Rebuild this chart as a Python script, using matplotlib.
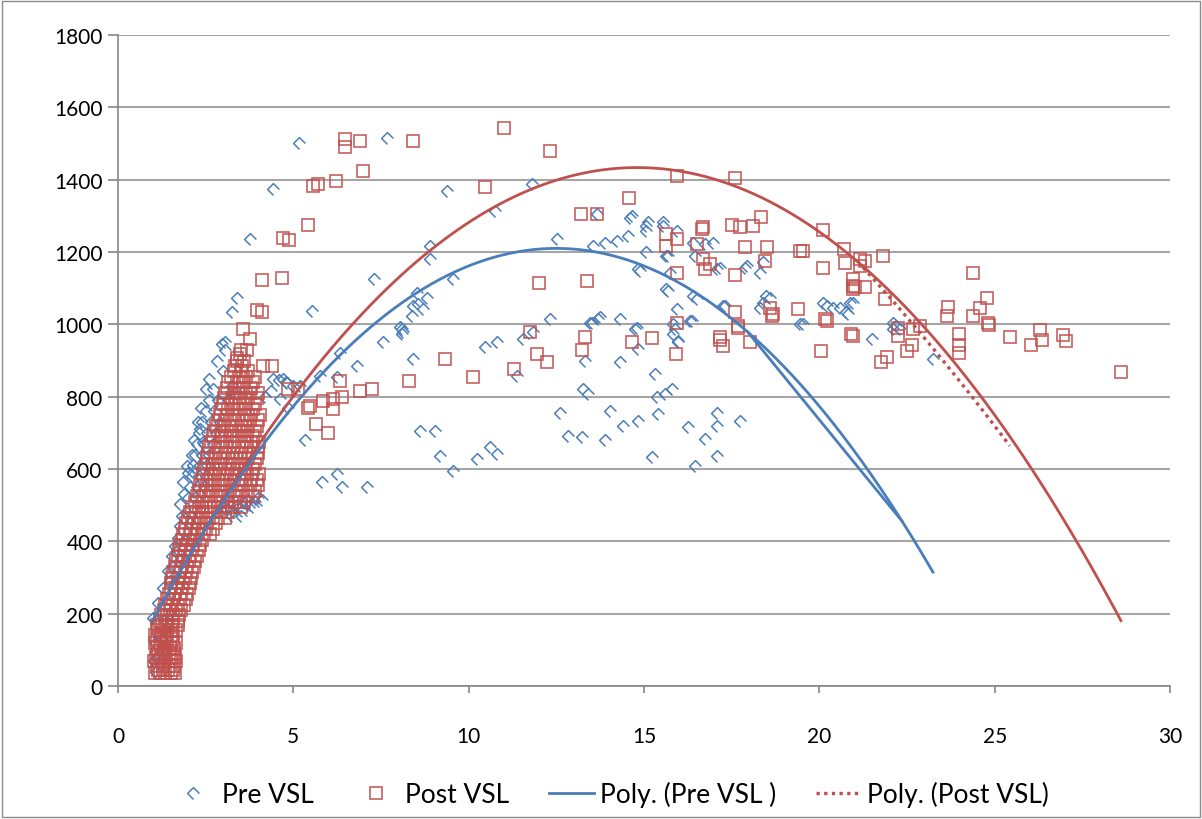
import numpy as np
import matplotlib
matplotlib.use("Agg")
import matplotlib.pyplot as plt
from matplotlib.path import Path
from matplotlib.patches import Rectangle

plt.rcParams["font.family"] = ["Lato", "DejaVu Sans"]

# ---------------------------------------------------------------- data
# Pre VSL observations (x, y)
pre_x = [
    # dense low-speed band
    1.00, 1.05, 1.02, 1.10, 1.15, 1.20, 1.29, 1.35, 1.43, 1.50, 1.53, 1.63, 1.70, 1.77, 1.77,
    1.80, 1.86, 1.90, 1.95, 1.96, 2.00, 2.05, 2.05, 2.10, 2.15, 2.15, 2.20, 2.20, 2.25, 2.25,
    2.30, 2.30, 2.34, 2.35, 2.40, 2.40, 2.43, 2.45, 2.45, 2.50, 2.50, 2.55, 2.55, 2.60, 2.60,
    2.65, 2.70, 2.72, 2.75, 2.80, 2.85, 2.90, 2.96, 3.00, 3.05, 3.10, 3.20, 3.25, 3.30, 3.45,
    3.50, 3.60, 3.75, 3.90, 4.00, 3.15, 3.35, 4.43, 4.60, 4.80, 5.00, 4.20, 4.35,
    1.08, 1.12, 1.25, 1.32, 1.40, 1.48, 1.58, 1.66, 1.72, 1.82, 1.88, 2.00, 2.10, 2.18,
    2.28, 2.38, 2.50, 2.60, 2.82, 3.25, 3.40, 3.55, 3.70, 3.85, 4.10, 3.00,
    # scattered observations
    5.16, 7.68, 9.37, 11.80, 10.75, 8.90, 8.90, 7.31, 5.52, 9.56,
    8.52, 8.80, 8.42, 8.71, 8.37, 8.56,
    12.51, 14.65, 15.07, 15.07, 15.55, 15.93,
    13.55, 13.89, 14.22, 14.55, 15.07, 15.69, 14.88, 15.69, 16.50,
    16.40, 16.74, 16.97, 17.07, 17.88, 18.31, 18.59, 17.31, 15.93,
    12.32, 13.51, 13.74, 14.31, 14.79, 15.83, 16.36, 8.04,
    20.11, 20.21, 20.40, 20.77, 20.87, 18.49, 18.40, 18.31, 19.45,
    17.93, 18.40, 17.17, 16.40, 17.26, 15.64, 15.74, 14.84, 15.64, 16.45,
    15.55, 15.12, 14.60, 13.65, 13.70, 14.74, 15.88, 16.31,
    8.14, 8.09, 7.56, 8.42, 10.46, 10.80, 11.56, 11.84, 11.37, 13.32,
    13.46, 14.84, 14.31, 13.27, 13.41, 15.31, 15.36, 15.60, 15.79,
    15.83, 15.98, 12.60, 14.03, 12.84, 13.22, 13.89, 14.41, 14.84, 15.41, 15.22,
    16.26, 16.45, 8.61, 9.04, 9.18, 9.56, 10.23, 10.61, 10.80,
    17.07, 17.07, 16.74, 17.74, 17.07, 19.54, 21.49, 22.20, 22.30, 23.25,
    15.98, 20.97, 20.83, 20.59, 22.11, 22.11,
    4.43, 3.76, 3.38, 3.24, 3.05, 6.33,
    8.09, 6.81, 6.24, 5.76, 4.71, 4.81, 4.62, 4.86, 5.33, 6.24, 5.81, 6.38, 7.09, 5.19,
]
pre_y = [
    189, 120, 70, 150, 230, 60, 272, 100, 319, 200, 360, 388, 300, 443, 503,
    350, 563, 400, 480, 609, 520, 450, 550, 580, 591, 610, 520, 640, 550, 670,
    580, 700, 710, 610, 640, 730, 674, 550, 670, 580, 760, 610, 700, 640, 790,
    730, 670, 821, 760, 700, 790, 730, 946, 870, 930, 490, 510, 830, 480, 495,
    470, 505, 500, 510, 520, 790, 810, 850, 845, 840, 830, 800, 815,
    40, 80, 130, 180, 240, 290, 330, 370, 410, 470, 530, 590, 640, 680,
    730, 770, 820, 850, 900, 470, 500, 485, 515, 495, 515, 480,
    1501, 1514, 1369, 1388, 1314, 1217, 1180, 1125, 1038, 1125,
    1088, 1074, 1051, 1042, 1024, 1056,
    1236, 1300, 1273, 1259, 1273, 1259,
    1217, 1226, 1231, 1245, 1199, 1190, 1148, 1093, 1070,
    1226, 1222, 1226, 1153, 1157, 1143, 1074, 1051, 1042,
    1014, 1005, 1019, 1014, 991, 1001, 1010, 992,
    1060, 1051, 1046, 1033, 1060, 1079, 1060, 1046, 1001,
    1162, 1171, 1157, 1079, 1051, 1098, 1143, 1153, 1190, 1190,
    1282, 1282, 1295, 1305, 1014, 987, 987, 1010,
    978, 987, 950, 904, 936, 950, 959, 978, 857, 899,
    1005, 932, 895, 821, 807, 863, 798, 807, 821,
    973, 950, 756, 761, 692, 688, 679, 720, 734, 752, 632,
    715, 609, 706, 706, 636, 595, 628, 660, 641,
    756, 720, 683, 734, 636, 1001, 959, 996, 987, 904,
    955, 1060, 1028, 1046, 1005, 987,
    1374, 1236, 1074, 1033, 950, 922,
    973, 886, 853, 857, 849, 839, 793, 770, 679, 586, 563, 549, 549, 830,
]

# Post VSL observations (x, y)
post_x = [
    # dense low-speed band
    1.06, 1.20, 1.35, 1.50, 1.62,
    1.13, 1.28, 1.43, 1.57,
    1.10, 1.28, 1.45, 1.60,
    1.04, 1.18, 1.33, 1.50, 1.64,
    1.08, 1.22, 1.38, 1.55, 1.63,
    1.15, 1.30, 1.46, 1.60,
    1.12, 1.30, 1.47, 1.60,
    1.05, 1.20, 1.35, 1.52, 1.66,
    1.10, 1.25, 1.40, 1.58,
    1.06, 1.22, 1.38, 1.55,
    1.15, 1.32, 1.50, 1.66,
    1.10, 1.25, 1.42, 1.58, 1.72,
    1.20, 1.38, 1.55, 1.70,
    1.22, 1.40, 1.58, 1.75,
    1.30, 1.48, 1.65, 1.80,
    1.35, 1.52, 1.70, 1.88,
    1.40, 1.58, 1.76, 1.95,
    1.45, 1.62, 1.80, 1.98,
    1.50, 1.66, 1.82, 2.02,
    1.52, 1.70, 1.86, 2.05,
    1.55, 1.72, 1.90, 2.08,
    1.58, 1.76, 1.95, 2.12,
    1.62, 1.80, 1.98, 2.18,
    1.66, 1.84, 2.02, 2.20,
    1.70, 1.88, 2.06, 2.25,
    1.74, 1.92, 2.10, 2.30,
    1.78, 1.95, 2.14, 2.35,
    1.82, 2.00, 2.20, 2.40,
    1.85, 2.05, 2.25, 2.45, 2.62,
    1.90, 2.08, 2.28, 2.50, 2.70,
    1.95, 2.12, 2.32, 2.55, 2.80,
    2.00, 2.18, 2.38, 2.60, 2.85, 3.05,
    2.05, 2.22, 2.42, 2.65, 2.90, 3.15,
    2.12, 2.30, 2.50, 2.75, 3.00, 3.25, 3.50,
    2.20, 2.40, 2.60, 2.85, 3.10, 3.35, 3.60,
    2.25, 2.45, 2.65, 2.90, 3.15, 3.40, 3.65, 3.85,
    2.30, 2.50, 2.72, 2.95, 3.20, 3.45, 3.70, 3.90,
    2.35, 2.55, 2.78, 3.00, 3.25, 3.50, 3.75, 3.98,
    2.40, 2.60, 2.85, 3.05, 3.30, 3.55, 3.80, 3.95,
    2.42, 2.65, 2.88, 3.10, 3.35, 3.58, 3.82, 4.02,
    2.45, 2.70, 2.90, 3.15, 3.40, 3.62, 3.85,
    2.50, 2.72, 2.95, 3.20, 3.42, 3.66, 3.90,
    2.55, 2.78, 3.00, 3.25, 3.48, 3.70, 3.95,
    2.58, 2.80, 3.04, 3.28, 3.50, 3.74, 3.98,
    2.60, 2.85, 3.08, 3.30, 3.55, 3.78, 4.00,
    2.65, 2.90, 3.12, 3.35, 3.58, 3.80, 4.02,
    2.70, 2.95, 3.18, 3.40, 3.62, 3.85,
    2.75, 2.98, 3.22, 3.45, 3.68, 3.90,
    2.80, 3.02, 3.25, 3.50, 3.72, 3.95,
    2.85, 3.06, 3.30, 3.54, 3.76, 4.00,
    2.90, 3.10, 3.35, 3.58, 3.80, 4.05,
    2.95, 3.15, 3.40, 3.62, 3.85,
    3.00, 3.22, 3.45, 3.65, 3.90,
    3.02, 3.26, 3.48, 3.70, 3.95,
    3.05, 3.30, 3.52, 3.75, 4.00,
    3.10, 3.35, 3.56, 3.80,
    3.15, 3.40, 3.60, 3.85,
    3.22, 3.45, 3.65, 3.90,
    3.30, 3.50, 3.70,
    3.35, 3.55,
    3.40, 3.60,
    3.50, 3.68,
    # scattered observations
    6.47, 6.47, 6.90, 8.42, 11.01, 12.32, 6.99, 5.57, 5.71, 6.21, 5.41, 4.71, 4.88, 4.67,
    10.46, 14.58, 13.20, 13.67, 15.93, 17.59,
    15.64, 15.93, 15.64, 16.64, 16.69, 16.50,
    17.50, 17.73, 18.12, 18.35, 17.88, 18.50,
    16.69, 16.88, 16.74, 17.59, 18.45, 18.59, 18.64, 17.59,
    12.01, 13.38,
    20.11, 20.70, 20.73, 20.11, 20.97, 20.97, 20.97, 20.97, 20.16, 19.40,
    19.45, 19.54, 17.69, 18.69, 15.93, 15.93, 17.17,
    8.31, 9.32, 10.13, 11.30, 11.75, 11.96, 12.22, 13.22, 13.32, 14.67, 15.22, 15.91,
    17.17, 17.24, 17.67, 18.02, 20.06, 20.89, 21.77, 21.92, 22.25, 22.49, 22.63, 22.68,
    22.87, 20.21,
    21.16, 21.30, 21.82, 21.16, 21.02, 21.30, 21.87,
    24.37, 23.68, 23.63, 24.58, 24.79, 24.37, 24.82, 24.84,
    22.25, 23.99, 23.99, 23.99, 25.45, 26.29, 26.34, 26.03, 26.96, 27.03, 28.60,
    4.12, 3.95, 4.10, 3.57, 3.76, 3.48, 3.38,
    7.23, 6.90, 6.33, 6.38, 6.14, 5.85, 6.12, 5.43, 5.47, 5.66, 6.00, 5.14, 4.86, 4.14, 4.38,
]
post_y = [
    35, 35, 35, 35, 35,
    45, 45, 45, 45,
    55, 55, 55, 55,
    68, 68, 68, 68, 68,
    80, 80, 80, 80, 80,
    92, 92, 92, 92,
    105, 105, 105, 105,
    118, 118, 118, 118, 118,
    130, 130, 130, 130,
    142, 142, 142, 142,
    155, 155, 155, 155,
    168, 168, 168, 168, 168,
    180, 180, 180, 180,
    195, 195, 195, 195,
    210, 210, 210, 210,
    225, 225, 225, 225,
    240, 240, 240, 240,
    255, 255, 255, 255,
    270, 270, 270, 270,
    285, 285, 285, 285,
    300, 300, 300, 300,
    315, 315, 315, 315,
    330, 330, 330, 330,
    345, 345, 345, 345,
    360, 360, 360, 360,
    375, 375, 375, 375,
    390, 390, 390, 390,
    405, 405, 405, 405,
    420, 420, 420, 420, 420,
    435, 435, 435, 435, 435,
    450, 450, 450, 450, 450,
    465, 465, 465, 465, 465, 465,
    480, 480, 480, 480, 480, 480,
    495, 495, 495, 495, 495, 495, 495,
    510, 510, 510, 510, 510, 510, 510,
    525, 525, 525, 525, 525, 525, 525, 525,
    540, 540, 540, 540, 540, 540, 540, 540,
    555, 555, 555, 555, 555, 555, 555, 555,
    570, 570, 570, 570, 570, 570, 570, 570,
    585, 585, 585, 585, 585, 585, 585, 585,
    600, 600, 600, 600, 600, 600, 600,
    615, 615, 615, 615, 615, 615, 615,
    630, 630, 630, 630, 630, 630, 630,
    645, 645, 645, 645, 645, 645, 645,
    660, 660, 660, 660, 660, 660, 660,
    675, 675, 675, 675, 675, 675, 675,
    690, 690, 690, 690, 690, 690,
    705, 705, 705, 705, 705, 705,
    720, 720, 720, 720, 720, 720,
    735, 735, 735, 735, 735, 735,
    750, 750, 750, 750, 750, 750,
    765, 765, 765, 765, 765,
    780, 780, 780, 780, 780,
    795, 795, 795, 795, 795,
    810, 810, 810, 810, 810,
    825, 825, 825, 825,
    840, 840, 840, 840,
    855, 855, 855, 855,
    870, 870, 870,
    885, 885,
    900, 900,
    930, 930,
    1512, 1489, 1508, 1508, 1542, 1480, 1423, 1383, 1389, 1397, 1276, 1240, 1234, 1127,
    1380, 1348, 1304, 1304, 1410, 1404,
    1251, 1237, 1217, 1263, 1268, 1222,
    1274, 1268, 1273, 1296, 1213, 1213,
    1181, 1167, 1153, 1137, 1176, 1046, 1024, 1035,
    1114, 1120,
    1262, 1208, 1169, 1157, 1125, 1107, 1098, 968, 1015, 1042,
    1204, 1204, 995, 1028, 1005, 1143, 965,
    844, 904, 853, 876, 978, 917, 897, 930, 964, 952, 962, 919,
    958, 941, 991, 952, 927, 973, 895, 910, 968, 927, 942, 987,
    996, 1010,
    1181, 1176, 1190, 1162, 1102, 1102, 1070,
    1141, 1049, 1022, 1044, 1072, 1024, 1004, 998,
    991, 973, 943, 922, 965, 984, 957, 943, 970, 955, 867,
    1123, 1040, 1033, 988, 959, 918, 908,
    821, 816, 844, 798, 793, 789, 766, 770, 775, 724, 700, 821, 821, 886, 886,
]

# polynomial trend coefficients (highest power first) and their x spans
pre_trend = [-7.76, 194.0, -2.5]
pre_span = [0.98, 23.24]
pre_chord = [17.96, 22.36]
post_trend = [-6.58, 194.8, -8.3]
post_span = [0.96, 28.6]
post_tail_trend = [-2.633, 5.01, 2239.4]
post_tail_span = [21.25, 25.43]

x_ticks = [0, 5, 10, 15, 20, 25, 30]
y_ticks = [0, 200, 400, 600, 800, 1000, 1200, 1400, 1600, 1800]

# ---------------------------------------------------------------- style
BLUE = "#4A7EBB"
RED = "#C0504D"
GRID = "#A6A6A6"
AXIS = "#868686"

# open diamond (lower-right edge left out)
pre_marker = Path([(0, -1), (-1, 0), (0, 1), (1, 0)],
                  [Path.MOVETO, Path.LINETO, Path.LINETO, Path.LINETO])

fig = plt.figure(figsize=(12.02, 8.20), dpi=100)
ax = fig.add_axes([118 / 1202, 1 - 687 / 820, (1170 - 118) / 1202, (687 - 36) / 820])

ax.plot(pre_x, pre_y, linestyle="none", marker=pre_marker, markersize=8.5,
        markerfacecolor="none", markeredgecolor=BLUE, markeredgewidth=1.1,
        label="Pre VSL", zorder=3)
ax.plot(post_x, post_y, linestyle="none", marker="s", markersize=9,
        markerfacecolor="none", markeredgecolor=RED, markeredgewidth=1.2,
        alpha=0.9, label="Post VSL", zorder=4)

xs = np.linspace(pre_span[0], pre_span[1], 400)
ax.plot(xs, np.polyval(pre_trend, xs), color=BLUE, lw=2.0,
        label="Poly. (Pre VSL )", zorder=6)
xc = np.array(pre_chord)
ax.plot(xc, np.polyval(pre_trend, xc), color=BLUE, lw=2.0, zorder=6)

xs = np.linspace(post_span[0], post_span[1], 400)
ax.plot(xs, np.polyval(post_trend, xs), color=RED, lw=2.0, zorder=5)
xs = np.linspace(post_tail_span[0], post_tail_span[1], 100)
ax.plot(xs, np.polyval(post_tail_trend, xs), color=RED, lw=2.4,
        linestyle=(0, (1.0, 1.3)), label="Poly. (Post VSL)", zorder=5)

ax.set_xlim(0, 30)
ax.set_ylim(0, 1800)
ax.set_xticks(x_ticks)
ax.set_yticks(y_ticks)
ax.grid(axis="y", color=GRID, linewidth=1.5)
ax.set_axisbelow(True)
for side in ("top", "right"):
    ax.spines[side].set_visible(False)
for side in ("left", "bottom"):
    ax.spines[side].set_color(AXIS)
    ax.spines[side].set_linewidth(1.2)
ax.tick_params(axis="y", direction="out", length=7, width=1.2, color=AXIS,
               labelsize=15, pad=4)
ax.tick_params(axis="x", direction="out", length=5, width=1.2, color=AXIS,
               labelsize=15, pad=24)

handles, labels = ax.get_legend_handles_labels()
leg = fig.legend(handles, labels, loc="center", bbox_to_anchor=(610 / 1202, 1 - 795 / 820),
                 ncol=4, frameon=False, fontsize=19, handlelength=1.7,
                 handletextpad=0.25, columnspacing=1.5)

fig.patches.append(Rectangle((0.0015, 0.002), 0.997, 0.996, transform=fig.transFigure,
                             fill=False, edgecolor="#8C8C8C", linewidth=1.0))

fig.savefig("out.png", dpi=100, facecolor="white")
